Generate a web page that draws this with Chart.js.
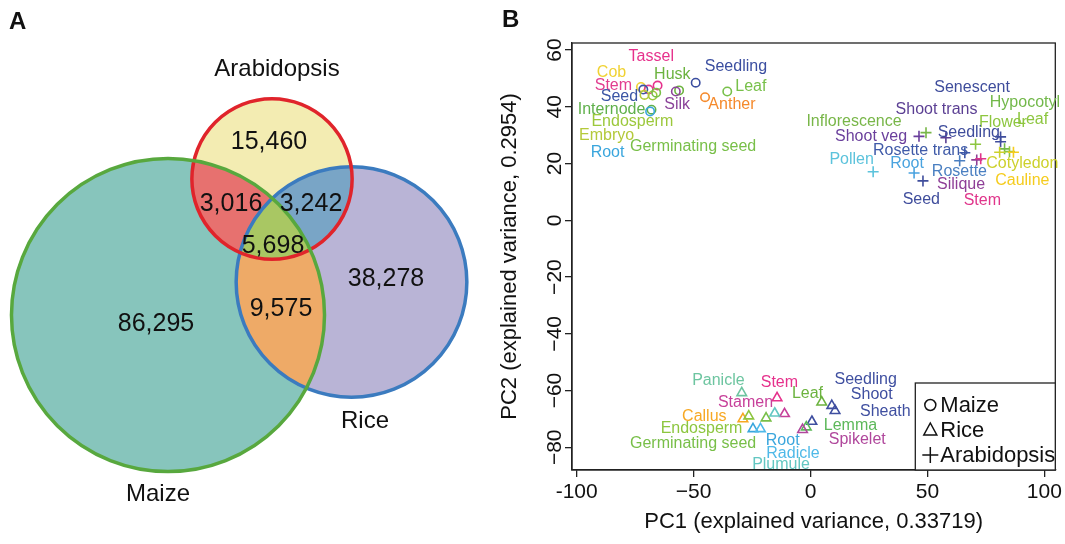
<!DOCTYPE html>
<html>
<head>
<meta charset="utf-8">
<script src="https://cdn.jsdelivr.net/npm/chart.js@4.4.1/dist/chart.umd.min.js"></script>
<style>
  html, body { margin: 0; padding: 0; background: #fff; }
  #wrap { position: relative; width: 1065px; height: 544px; }
  #vennBox { position: absolute; left: 0; top: 0; width: 490px; height: 544px; }
  #pcaBox { position: absolute; left: 490px; top: 0; width: 575px; height: 544px; }
</style>
</head>
<body>
<div id="wrap">
  <div id="vennBox"><canvas id="vennChart"></canvas></div>
  <div id="pcaBox"><canvas id="pcaChart"></canvas></div>
</div>
<script>
// ---- panel A: gene family overlap ----
const vennSets = ["Maize", "Arabidopsis", "Rice"];
// regions: only M, only A, only R, M+A, A+R, M+R, all three
const vennRegions = ["Maize", "Arabidopsis", "Rice", "Maize+Arabidopsis", "Arabidopsis+Rice", "Maize+Rice", "All"];
const vennCounts = [86295, 15460, 38278, 3016, 3242, 9575, 5698];

// ---- panel B: PCA of tissues ----
const maizeTissues = ["Tassel", "Cob", "Husk", "Seedling", "Stem", "Seed", "Leaf", "Silk", "Anther", "Internode", "Endosperm", "Embryo", "Root", "Germinating seed"];
const maizePC1 = [-65.4, -72.5, -56.2, -49.1, -69.2, -71.5, -35.6, -57.6, -45.1, -68.0, -67.5, -71.0, -68.6, -66.0];
const maizePC2 = [47.5, 47.0, 45.8, 48.5, 46.1, 46.1, 45.4, 45.4, 43.4, 39.0, 44.0, 44.2, 38.4, 45.0];

const riceTissues = ["Panicle", "Stem", "Seedling", "Shoot", "Leaf", "Stamen", "Sheath", "Callus", "Lemma", "Endosperm", "Spikelet", "Germinating seed", "Root", "Radicle", "Plumule"];
const ricePC1 = [-29.4, -14.3, 9.1, 0.6, 4.8, -11.1, 10.5, -28.9, -1.8, -26.4, -3.4, -19.0, -24.6, -21.4, -15.3];
const ricePC2 = [-60.8, -62.6, -65.3, -70.9, -64.1, -68.2, -67.1, -70.0, -72.9, -69.0, -73.8, -69.7, -73.5, -73.5, -68.0];

const arabTissues = ["Senescent", "Shoot trans", "Hypocotyl", "Leaf", "Flower", "Inflorescence", "Shoot veg", "Seedling", "Rosette trans", "Pollen", "Root", "Rosette", "Cotyledon", "Silique", "Cauline", "Seed", "Stem"];
const arabPC1 = [81.3, 57.9, 83.0, 85.1, 70.6, 49.4, 46.4, 81.3, 66.0, 26.8, 44.3, 63.8, 80.9, 71.1, 86.8, 48.1, 72.8];
const arabPC2 = [27.7, 29.1, 25.2, 24.2, 26.8, 30.9, 29.6, 29.4, 23.8, 17.1, 16.7, 21.0, 24.0, 21.3, 24.0, 13.9, 21.7];

const xTicks = [-100, -50, 0, 50, 100];
const yTicks = [-80, -60, -40, -20, 0, 20, 40, 60];

// ---- styles and label placement (kept apart from the data) ----
const FONT = "'Liberation Sans', Arial, Helvetica, sans-serif";

const maizeColors = ["#e6318c", "#f0d233", "#6cb33f", "#3b4ea0", "#e23d8f", "#3b55a5", "#78c04a", "#8b449a", "#f58a2c", "#5fb04b", "#9cc83c", "#b4c93a", "#3aa6dd", "#78bf48"];
const riceColors = ["#6dc5a0", "#e6318c", "#3f4fa0", "#3f4fa0", "#6cb33f", "#c7409a", "#3f4fa0", "#f7a823", "#5db85a", "#8dc63f", "#b0479c", "#78bf48", "#3aa6dd", "#4fb9e8", "#63c7c2"];
const arabColors = ["#3f4d9c", "#5b3f93", "#72b84a", "#8dc63f", "#8dc63f", "#78b648", "#6a3f9c", "#3f4d9c", "#3f5aa8", "#5cc3dc", "#4aa3df", "#4a7fc1", "#cdd12c", "#8e3f97", "#f5cc1e", "#3f4d9c", "#e0358b"];

// label anchors, in PC units
const maizeLabelPos = [[-68.1, 57.7], [-85.1, 52.0], [-59.1, 51.3], [-31.9, 54.1], [-84.3, 47.4], [-81.7, 43.5], [-25.5, 47.1], [-57.0, 40.7], [-33.6, 40.7], [-85.1, 39.0], [-76.2, 34.7], [-87.2, 29.8], [-86.8, 23.8], [-50.2, 25.9]];
const riceLabelPos = [[-39.4, -56.6], [-13.3, -57.2], [23.6, -56.2], [26.2, -61.4], [-1.3, -61.1], [-27.8, -64.4], [32.0, -67.4], [-45.4, -69.2], [17.1, -72.2], [-46.6, -73.4], [20.0, -77.4], [-50.2, -78.8], [-11.9, -77.6], [-7.5, -82.1], [-12.6, -86.0]];
const arabLabelPos = [[69.1, 46.8], [53.9, 39.2], [91.7, 41.4], [95.0, 35.4], [82.3, 34.4], [18.6, 34.8], [25.9, 29.6], [67.7, 30.9], [47.1, 24.5], [17.6, 21.5], [41.3, 20.0], [63.7, 17.3], [90.6, 20.0], [64.4, 12.7], [90.6, 13.9], [47.4, 7.4], [73.5, 7.1]];

// venn layout (diagram units) and colours
const vennCenters = [[168, 315], [272, 179], [351.5, 282]];
const vennRadiusK = 0.484; // radius = k * sqrt(set size)
const vennStroke = ["#58a83e", "#e0242b", "#3b7bbf"];
const vennFill = ["#87c5bc", "#f3ecb2", "#b9b4d6", "#e7716f", "#79a5c6", "#eeaa67", "#a9c763"];
const vennCountPos = [[156, 324], [269, 142], [386, 279], [231, 204], [311, 204], [281, 309], [273, 246]];
const vennNamePos = [[158, 494], [277, 69], [365, 421]];

// set sizes from the region counts
const setMembers = [[0, 3, 5, 6], [1, 3, 4, 6], [2, 4, 5, 6]];
const setSizes = setMembers.map(idx => idx.reduce((s, k) => s + vennCounts[k], 0));

const vennPlugin = {
  id: "vennDraw",
  beforeDatasetsDraw(chart) {
    const { ctx, scales: { x, y } } = chart;
    const circles = vennSets.map((name, i) => {
      const cx = x.getPixelForValue(vennCenters[i][0]);
      const cy = y.getPixelForValue(vennCenters[i][1]);
      const r = x.getPixelForValue(vennCenters[i][0] + vennRadiusK * Math.sqrt(setSizes[i])) - cx;
      return { cx, cy, r };
    });
    const path = c => { ctx.beginPath(); ctx.arc(c.cx, c.cy, c.r, 0, Math.PI * 2); };

    ctx.save();
    circles.forEach((c, i) => { path(c); ctx.fillStyle = vennFill[i]; ctx.fill(); });
    [[0, 1], [1, 2], [0, 2]].forEach(([a, b], k) => {
      ctx.save();
      path(circles[a]); ctx.clip();
      path(circles[b]); ctx.fillStyle = vennFill[3 + k]; ctx.fill();
      ctx.restore();
    });
    ctx.save();
    path(circles[0]); ctx.clip();
    path(circles[1]); ctx.clip();
    path(circles[2]); ctx.fillStyle = vennFill[6]; ctx.fill();
    ctx.restore();

    [2, 1, 0].forEach(i => {
      path(circles[i]);
      ctx.lineWidth = 3.5;
      ctx.strokeStyle = vennStroke[i];
      ctx.stroke();
    });

    ctx.fillStyle = "#111";
    ctx.textAlign = "center";
    ctx.textBaseline = "middle";
    ctx.font = "25px " + FONT;
    vennCounts.forEach((n, i) => {
      ctx.fillText(n.toLocaleString("en-US"), x.getPixelForValue(vennCountPos[i][0]), y.getPixelForValue(vennCountPos[i][1]));
    });
    ctx.font = "24px " + FONT;
    vennSets.forEach((name, i) => {
      ctx.fillText(name, x.getPixelForValue(vennNamePos[i][0]), y.getPixelForValue(vennNamePos[i][1]));
    });
    ctx.font = "bold 24px " + FONT;
    ctx.textAlign = "left";
    ctx.fillText("A", 9, 22);
    ctx.restore();
  }
};

new Chart(document.getElementById("vennChart"), {
  type: "scatter",
  data: { datasets: [{ data: [] }] },
  options: {
    responsive: true,
    maintainAspectRatio: false,
    animation: false,
    layout: { padding: 0 },
    scales: {
      x: { display: false, min: 0, max: 490 },
      y: { display: false, min: 0, max: 544, reverse: true }
    },
    plugins: { legend: { display: false }, tooltip: { enabled: false } }
  },
  plugins: [vennPlugin]
});

// ---- PCA chart ----
const labelPos = [maizeLabelPos, riceLabelPos, arabLabelPos];
const tissueNames = [maizeTissues, riceTissues, arabTissues];

function fmtTick(v) {
  if (v === -100) return "-100";
  return v < 0 ? "\u2212" + Math.abs(v) : String(v);
}

const pcaDecor = {
  id: "pcaDecor",
  afterDatasetsDraw(chart) {
    const { ctx, chartArea: a, scales: { x, y } } = chart;
    ctx.save();
    // box round the plot
    ctx.strokeStyle = "#222";
    ctx.lineWidth = 1.3;
    ctx.strokeRect(a.left, a.top, a.right - a.left, a.bottom - a.top);

    // tissue labels
    ctx.font = "16px " + FONT;
    ctx.textAlign = "center";
    ctx.textBaseline = "middle";
    chart.data.datasets.forEach((ds, d) => {
      tissueNames[d].forEach((t, i) => {
        ctx.fillStyle = ds.pointBorderColor[i];
        ctx.fillText(t, x.getPixelForValue(labelPos[d][i][0]), y.getPixelForValue(labelPos[d][i][1]));
      });
    });

    // legend box, bottom right
    const w = 140, h = 87;
    const bx = a.right - w, by = a.bottom - h;
    ctx.fillStyle = "#fff";
    ctx.fillRect(bx, by, w, h);
    ctx.strokeRect(bx, by, w, h);
    ctx.strokeStyle = "#111";
    ctx.fillStyle = "#111";
    ctx.lineWidth = 1.5;
    ctx.textAlign = "left";
    ctx.font = "22px " + FONT;
    chart.data.datasets.forEach((ds, d) => {
      const cy = by + 22 + d * 25;
      const cx = bx + 15;
      ctx.beginPath();
      if (ds.pointStyle === "circle") {
        ctx.arc(cx, cy, 5.5, 0, Math.PI * 2);
      } else if (ds.pointStyle === "triangle") {
        ctx.moveTo(cx, cy - 7);
        ctx.lineTo(cx + 6.5, cy + 5);
        ctx.lineTo(cx - 6.5, cy + 5);
        ctx.closePath();
      } else {
        ctx.moveTo(cx - 8, cy); ctx.lineTo(cx + 8, cy);
        ctx.moveTo(cx, cy - 8); ctx.lineTo(cx, cy + 8);
      }
      ctx.stroke();
      ctx.fillText(ds.label, bx + 25, cy + 1);
    });

    ctx.font = "bold 24px " + FONT;
    ctx.fillText("B", 12, 20);
    ctx.restore();
  }
};

function points(xs, ys) {
  return xs.map((v, i) => ({ x: v, y: ys[i] }));
}

const axisFont = { family: FONT, size: 21 };

new Chart(document.getElementById("pcaChart"), {
  type: "scatter",
  data: {
    datasets: [
      { label: "Maize", data: points(maizePC1, maizePC2), pointStyle: "circle", pointRadius: 4.2,
        pointBorderColor: maizeColors, pointBackgroundColor: "rgba(0,0,0,0)", pointBorderWidth: 1.6 },
      { label: "Rice", data: points(ricePC1, ricePC2), pointStyle: "triangle", pointRadius: 5.5,
        pointBorderColor: riceColors, pointBackgroundColor: "rgba(0,0,0,0)", pointBorderWidth: 1.6 },
      { label: "Arabidopsis", data: points(arabPC1, arabPC2), pointStyle: "cross", pointRadius: 5.5,
        pointBorderColor: arabColors, pointBackgroundColor: "rgba(0,0,0,0)", pointBorderWidth: 1.6 }
    ]
  },
  options: {
    responsive: true,
    maintainAspectRatio: false,
    animation: false,
    layout: { padding: { left: 0, right: 7, top: 43, bottom: 0 } },
    scales: {
      x: {
        type: "linear",
        min: -102, max: 104.7,
        afterBuildTicks: s => { s.ticks = xTicks.map(v => ({ value: v })); },
        afterFit: s => { s.height = 74; },
        ticks: { callback: v => fmtTick(v), font: axisFont, color: "#111", padding: 3 },
        grid: { drawOnChartArea: false, drawTicks: true, tickLength: 7, color: "#222", lineWidth: 1.3 },
        border: { display: true, color: "#222", width: 1.3 },
        title: { display: true, text: "PC1 (explained variance, 0.33719)", color: "#111",
                 font: { family: FONT, size: 22 }, padding: { top: 0, bottom: 9 } }
      },
      y: {
        type: "linear",
        min: -88, max: 62.5,
        afterBuildTicks: s => { s.ticks = yTicks.map(v => ({ value: v })); },
        afterFit: s => { s.width = 82; },
        ticks: { callback: v => fmtTick(v), font: axisFont, color: "#111", padding: -8,
                 minRotation: 90, maxRotation: 90, crossAlign: "center" },
        grid: { drawOnChartArea: false, drawTicks: true, tickLength: 7, color: "#222", lineWidth: 1.3 },
        border: { display: true, color: "#222", width: 1.3 },
        title: { display: true, text: "PC2 (explained variance, 0.2954)", color: "#111",
                 font: { family: FONT, size: 22 }, padding: { top: 7, bottom: 0 } }
      }
    },
    plugins: { legend: { display: false }, tooltip: { enabled: false } }
  },
  plugins: [pcaDecor]
});
</script>
</body>
</html>
